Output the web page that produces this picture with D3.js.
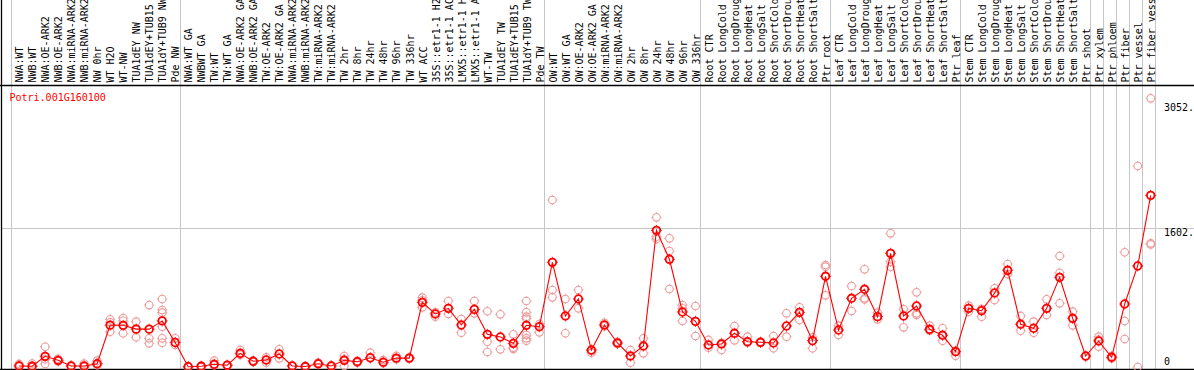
<!DOCTYPE html>
<html>
<head>
<meta charset="utf-8">
<script src="https://cdn.jsdelivr.net/npm/d3@7"></script>
<style>
  html, body { margin: 0; padding: 0; background: #fff; }
  svg { display: block; }
  text { font-family: "DejaVu Sans Mono", "Liberation Mono", monospace; font-size: 10px; }
</style>
</head>
<body>
<svg id="chart" width="1194" height="370"></svg>
<script>
const geneTitle = "Potri.001G160100";

const categories = [
  "NWA:WT","NWB:WT","NWA:OE-ARK2","NWB:OE-ARK2","NWA:miRNA-ARK2","NWB:miRNA-ARK2","NW 0hr","WT H2O","WT-NW","TUA1dEY NW","TUA1dEY+TUB15","TUA1dY+TUB9 NW","Pde NW",
  "NWA:WT GA","NWBWT GA","TW:WT","TW:WT GA","NWA:OE-ARK2 GA","NWB:OE-ARK2 GA","TW:OE-ARK2","TW:OE-ARK2 GA","NWA:miRNA-ARK2","NWB:miRNA-ARK2","TW:miRNA-ARK2","TW:miRNA-ARK2","TW 2hr","TW 8hr","TW 24hr","TW 48hr","TW 96hr","TW 336hr","WT ACC","35S::etr1-1 H2O","35S::etr1-1 ACC","LMX5::etr1-1 H2O","LMX5::etr1-1 ACC","WT-TW","TUA1dEY TW","TUA1dEY+TUB15","TUA1dY+TUB9 TW","Pde TW",
  "OW:WT","OW:WT GA","OW:OE-ARK2","OW:OE-ARK2 GA","OW:miRNA-ARK2","OW:miRNA-ARK2","OW 2hr","OW 8hr","OW 24hr","OW 48hr","OW 96hr","OW 336hr",
  "Root CTR","Root LongCold","Root LongDrought","Root LongHeat","Root LongSalt","Root ShortCold","Root ShortDrought","Root ShortHeat","Root ShortSalt","Ptr root",
  "Leaf CTR","Leaf LongCold","Leaf LongDrought","Leaf LongHeat","Leaf LongSalt","Leaf ShortCold","Leaf ShortDrought","Leaf ShortHeat","Leaf ShortSalt","Ptr leaf",
  "Stem CTR","Stem LongCold","Stem LongDrought","Stem LongHeat","Stem LongSalt","Stem ShortCold","Stem ShortDrought","Stem ShortHeat","Stem ShortSalt","Ptr shoot",
  "Ptr xylem","Ptr phloem","Ptr fiber","Ptr vessel","Ptr fiber vessel"
];

const meanValues = [
  12, 8, 123, 77, 12, 12, 38, 483, 481, 437, 437, 532, 283,
  3, 8, 31, 20, 158, 66, 81, 150, 12, 5, 38, 12, 77, 61, 107, 55, 103, 103, 746, 612, 677, 485, 665, 377, 346, 273, 481, 465,
  1208, 589, 785, 196, 485, 277, 127, 242, 1577, 1243, 635, 527,
  254, 265, 389, 292, 285, 277, 473, 631, 304, 1047,
  427, 793, 897, 581, 1312, 589, 704, 435, 366, 177,
  677, 650, 854, 1116, 493, 447, 677, 1035, 562, 127,
  300, 112, 727, 1166, 1981
];

const replicateValues = [
  [35, 15, 5], [40, 10, 0], [234, 89, 35], [95, 70, 65], [15, 5, 10], [40, 5, 0], [73, 40, 20],
  [550, 516, 407], [565, 534, 389], [523, 343, 440], [715, 331, 273], [785, 658, 627, 465, 331, 280], [331, 254],
  [10, 0, 0], [15, 0], [73, 20], [25, 15], [196, 140], [75, 60], [112, 50, 81], [204, 100], [15, 8], [8, 0],
  [50, 30], [20, 5], [127, 12, 90], [70, 50], [165, 100], [80, 45], [130, 90], [110, 95],
  [800, 689, 770], [581, 630], [762, 612], [554, 396], [762, 619], [643, 292, 173], [608, 204], [377, 223, 210],
  [762, 631, 581, 560, 369, 331, 304], [496, 400],
  [1927, 889, 804], [785, 389], [889, 677], [165, 185], [511, 470], [290, 265], [196, 50], [331, 158],
  [1727, 1504, 1477], [1485, 1339, 900], [715, 677, 531], [704, 358],
  [312, 223], [280, 196], [473, 308], [350, 280], [290, 280], [358, 216], [619, 350], [689, 542], [343, 216], [1177, 1158, 827],
  [477, 369], [935, 646], [1127, 793, 780], [627, 550], [1543, 1215, 1158], [669, 458], [862, 619, 600], [477, 420], [447, 304], [131, 190],
  [708, 639], [670, 581], [908, 773], [1189, 1073], [589, 419], [523, 396], [781, 600], [1281, 1088, 735], [639, 481], [127, 120],
  [350, 234, 316], [130, 100], [1324, 531, 323], [2320, 0], [3101, 1427, 1415]
];

// indices (in categories) where a vertical group separator starts
const groupBoundaries = [0, 13, 41, 53, 63, 73, 83, 84, 85, 86, 87, 88];

const yTickValues = [0, 1602, 3052];
const yTickLabels = ["0", "1602.", "3052."];
const yGridValues = [1602];
const yDomainMax = 3204;

const W = 1194, H = 370;
const svg = d3.select("#chart");

const idx = d3.range(categories.length);
const x = d3.scaleBand().domain(idx).range([10.7, 1155.3]).paddingInner(0).paddingOuter(0);
const step = x.step();
const ptX = i => x(i) + 8.4;
const boundaryX = i => 10.7 + i * step;
const y = d3.scaleLinear().domain([0, yDomainMax]).range([367, 89.4]);

const frameTop = 85.5, frameBottom = 369.5;

// vertical gray separators (full height)
svg.append("g").selectAll("line").data(groupBoundaries).join("line")
  .attr("x1", d => Math.round(boundaryX(d)) + 0.5)
  .attr("x2", d => Math.round(boundaryX(d)) + 0.5)
  .attr("y1", 0).attr("y2", frameBottom)
  .attr("stroke", "#c6c6c6").attr("stroke-width", 1);

// horizontal gridline(s)
svg.append("g").selectAll("line").data(yGridValues).join("line")
  .attr("x1", 2).attr("x2", W)
  .attr("y1", d => Math.round(y(d)) + 0.5).attr("y2", d => Math.round(y(d)) + 0.5)
  .attr("stroke", "#c6c6c6").attr("stroke-width", 1);

// frame lines
svg.append("line").attr("x1", 0).attr("x2", W).attr("y1", frameTop).attr("y2", frameTop).attr("stroke", "#000").attr("stroke-width", 1.3);
svg.append("line").attr("x1", 0).attr("x2", W).attr("y1", frameBottom).attr("y2", frameBottom).attr("stroke", "#000").attr("stroke-width", 1.5);
svg.append("line").attr("x1", 1.5).attr("x2", 1.5).attr("y1", 0).attr("y2", frameBottom).attr("stroke", "#000").attr("stroke-width", 1.3);

// category labels (rotated, reading bottom to top)
svg.append("g").selectAll("text").data(idx).join("text")
  .attr("transform", i => `translate(${ptX(i) + 4.2},82.5) rotate(-90)`)
  .attr("text-anchor", "start")
  .attr("fill", "#000")
  .text(i => categories[i]);

// title
svg.append("text").attr("x", 9.5).attr("y", 100.7).attr("fill", "#ff0000").text(geneTitle);

// right axis labels
svg.append("g").selectAll("text").data(yTickValues).join("text")
  .attr("x", 1164)
  .attr("y", d => Math.min(y(d) + 8, 365.3))
  .attr("fill", "#000")
  .text((d, i) => yTickLabels[i]);

function marker(g, cx, cy, r, color, sw) {
  g.append("circle").attr("cx", cx).attr("cy", cy).attr("r", r)
    .attr("fill", "none").attr("stroke", color).attr("stroke-width", sw);
  const t0 = r + sw / 2 - 0.3, t1 = r + sw / 2 + 0.8;
  [[0, -1], [0, 1], [-1, 0], [1, 0]].forEach(([dx, dy]) => {
    g.append("line")
      .attr("x1", cx + dx * t0).attr("y1", cy + dy * t0)
      .attr("x2", cx + dx * t1).attr("y2", cy + dy * t1)
      .attr("stroke", color).attr("stroke-width", 0.9);
  });
}

// replicate points
const repG = svg.append("g");
idx.forEach(i => {
  replicateValues[i].forEach(v => marker(repG, ptX(i), y(v), 3.8, "#ec9a9a", 1.1));
});

// mean line
const line = d3.line().x((d, i) => ptX(i)).y(d => y(d));
svg.append("path").datum(meanValues).attr("d", line)
  .attr("fill", "none").attr("stroke", "#ff0000").attr("stroke-width", 1.1);

// mean points
const meanG = svg.append("g");
idx.forEach(i => marker(meanG, ptX(i), y(meanValues[i]), 3.8, "#ff0000", 1.8));
</script>
</body>
</html>
